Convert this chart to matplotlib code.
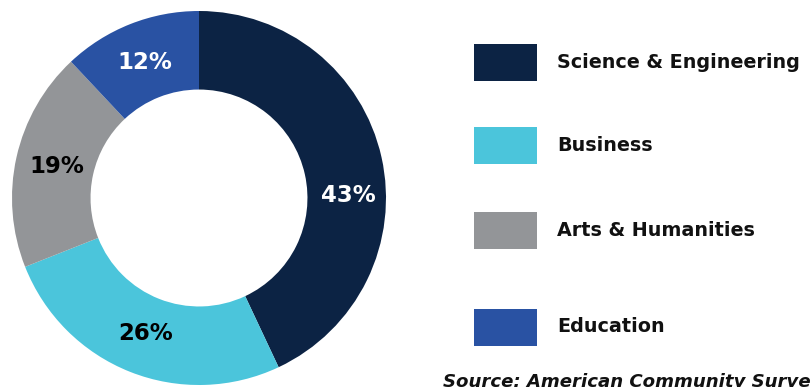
import numpy as np
import matplotlib
matplotlib.use('Agg')
import matplotlib.pyplot as plt
from matplotlib.patches import Rectangle

categories = ['Science & Engineering', 'Business', 'Arts & Humanities', 'Education']
shares = [43, 26, 19, 12]
colors = ['#0C2344', '#4BC5DB', '#939598', '#2952A3']
label_colors = ['white', 'black', 'black', 'white']

plt.rcParams['font.family'] = ['DejaVu Sans']

W, H = 812, 387
fig = plt.figure(figsize=(W / 100, H / 100), dpi=100)

# donut
ax = fig.add_axes([12 / W, 2 / H, 374 / W, 374 / H])
wedges, texts, autotexts = ax.pie(
    shares, colors=colors, startangle=90, counterclock=False,
    radius=1, wedgeprops=dict(width=0.42, linewidth=0),
    autopct=lambda p: f'{p:.0f}%', pctdistance=0.78)
ax.set_xlim(-1, 1)
ax.set_ylim(-1, 1)
for t, c in zip(autotexts, label_colors):
    t.set_color(c)
    t.set_fontsize(16.5)
    t.set_fontweight('bold')
# the 43% label sits a bit lower than the wedge middle
r = 0.8
autotexts[0].set_position((r * np.cos(np.radians(1)), r * np.sin(np.radians(1))))

# legend
box_y = [62.5, 146, 230, 327]
for name, col, yc in zip(categories, colors, box_y):
    fig.patches.append(Rectangle((474 / W, 1 - (yc + 18.5) / H), 63 / W, 37 / H,
                                 transform=fig.transFigure, facecolor=col,
                                 edgecolor='none'))
    fig.text(557 / W, 1 - yc / H, name, fontsize=13.8, fontweight='bold',
             va='center', ha='left', color='#111111')

fig.text(443 / W, 1 - 387 / H, 'Source: American Community Survey', fontsize=13.1,
         fontweight='bold', fontstyle='italic', va='baseline', ha='left',
         color='#111111')

fig.savefig('out.png', dpi=100)
